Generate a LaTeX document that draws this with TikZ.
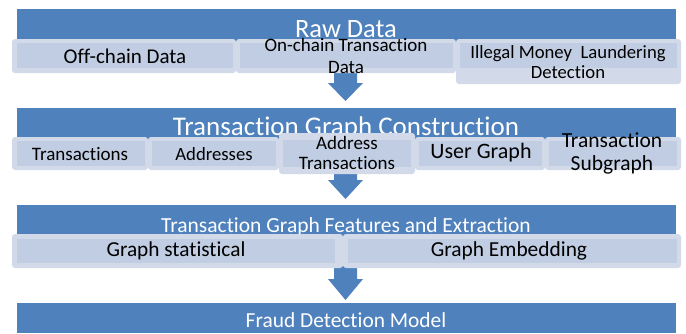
\documentclass[tikz,border=0pt]{standalone}
\usepackage{fontspec}
\setmainfont[Ligatures=NoCommon]{Carlito}
\definecolor{barblue}{HTML}{4F81BD}
\definecolor{boxout}{HTML}{D2DAEA}
\definecolor{boxin}{HTML}{C1CDE2}
\newcommand{\fsz}[2]{\fontsize{#1}{#2}\selectfont}
\begin{document}
\begin{tikzpicture}[x=1pt,y=-1pt,
  bar/.style={fill=barblue,draw=none,inner sep=0pt,outer sep=0pt},
  ttl/.style={text=white,inner sep=0pt,anchor=base},
  obox/.style={fill=boxout,draw=none,rounded corners=3pt,inner sep=0pt,outer sep=0pt},
  band/.style={fill=boxin},
  lbl/.style={text=black,inner sep=0pt,align=center},
  arr/.style={fill=barblue}]
\useasboundingbox (0,0) rectangle (686,333);
\fill[white] (0,0) rectangle (686,333);
% blue bars
\node[bar,anchor=north west,minimum width=659pt,minimum height=52pt] (bar1) at (17,9) {};
\node[bar,anchor=north west,minimum width=659pt,minimum height=48pt] (bar2) at (17,108) {};
\node[bar,anchor=north west,minimum width=659pt,minimum height=45pt] (bar3) at (17,205) {};
\node[bar,anchor=north west,minimum width=659pt,minimum height=30pt] (bar4) at (17,303) {};
% titles
\node[ttl,font=\fsz{26.5}{30}] (t1) at (346,37) {Raw Data};
\node[ttl,font=\fsz{27}{31}] (t2) at (346,135) {Transaction Graph Construction};
\node[ttl,font=\fsz{21.5}{25}] (t3) at (346,232) {Transaction Graph Features and Extraction};
\node[ttl,font=\fsz{21.4}{25}] (t4) at (346,327) {Fraud Detection Model};
% arrows
\fill[arr] (334,70) -- (357,70) -- (357,83) -- (363,83) -- (345.5,101) -- (328,83) -- (334,83) -- cycle;
\fill[arr] (334,168) -- (357,168) -- (357,180) -- (363,180) -- (345.5,199) -- (328,180) -- (334,180) -- cycle;
\fill[arr] (334,266) -- (357,266) -- (357,279) -- (363,279) -- (345.5,300) -- (328,279) -- (334,279) -- cycle;
% row 1 boxes
\node[obox,minimum width=224pt,minimum height=34pt] (off) at (124,56) {};
\node[obox,minimum width=220pt,minimum height=34pt] (on) at (346,56) {};
\node[obox,minimum width=225pt,minimum height=45pt] (ill) at (568.5,61.5) {};
\fill[band] (17,43) rectangle (233,68);
\fill[band] (240,43) rectangle (453,68);
\fill[band] (460,43) rectangle (677,68);
\node[lbl,font=\fsz{21}{24}] at (125,56) {Off-chain Data};
\node[lbl,font=\fsz{19}{22}] at (346,56) {On-chain Transaction\\Data};
\node[lbl,font=\fsz{18.7}{20}] at (568,62) {Illegal Money\ \ Laundering\\Detection};
% row 2 boxes
\node[obox,minimum width=136pt,minimum height=33pt] (tx) at (80,153.5) {};
\node[obox,minimum width=131pt,minimum height=33pt] (addr) at (213.5,153.5) {};
\node[obox,minimum width=136pt,minimum height=41pt] (at) at (347,153.5) {};
\node[obox,minimum width=130pt,minimum height=33pt] (ug) at (480,153.5) {};
\node[obox,minimum width=136pt,minimum height=33pt] (ts) at (613,153.5) {};
\fill[band] (17,141) rectangle (145,166);
\fill[band] (152,141) rectangle (276,166);
\fill[band] (283,140) rectangle (411,167);
\fill[band] (419,141) rectangle (542,166);
\fill[band] (549,141) rectangle (677,166);
\node[lbl,font=\fsz{19}{22}] at (80,154) {Transactions};
\node[lbl,font=\fsz{18.7}{22}] at (214,154) {Addresses};
\node[lbl,font=\fsz{19}{20}] at (347,153) {Address\\Transactions};
\node[lbl,font=\fsz{22}{25}] at (481,153) {User Graph};
\node[lbl,font=\fsz{21.5}{23}] at (612,153) {Transaction\\Subgraph};
% row 3 boxes
\node[obox,minimum width=331pt,minimum height=34pt] (gs) at (177.5,251) {};
\node[obox,minimum width=338pt,minimum height=34pt] (ge) at (512,251) {};
\fill[band] (17,239) rectangle (335,263);
\fill[band] (348,239) rectangle (677,263);
\node[lbl,font=\fsz{21.3}{24}] at (176,251) {Graph statistical};
\node[lbl,font=\fsz{21.4}{24}] at (509,251) {Graph Embedding};
\end{tikzpicture}
\end{document}
